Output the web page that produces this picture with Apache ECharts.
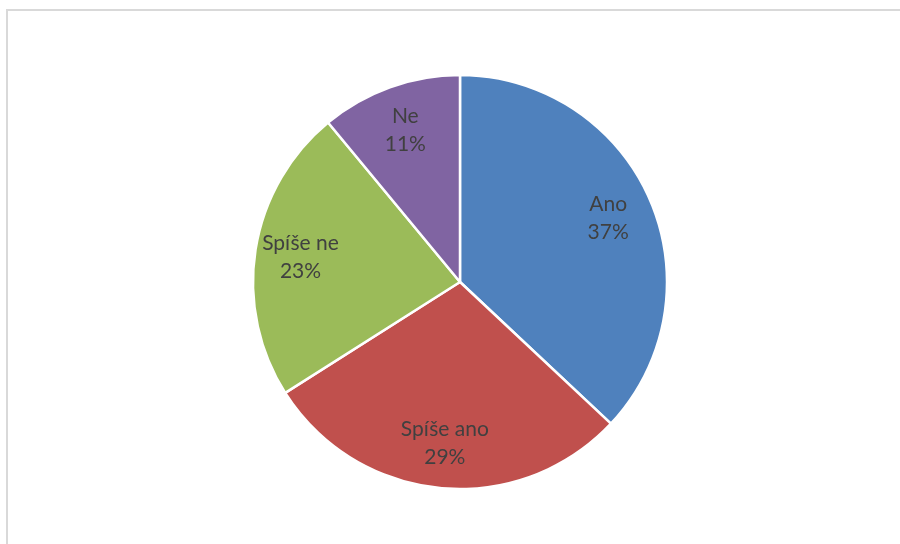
<!DOCTYPE html>
<html>
<head>
<meta charset="utf-8">
<script src="https://cdn.jsdelivr.net/npm/echarts@6/dist/echarts.min.js"></script>
<style>
  html, body { margin: 0; padding: 0; background: #ffffff; }
  #chart { width: 900px; height: 544px; }
</style>
</head>
<body>
<div id="chart"></div>
<script>
// Answer categories and their shares (percent)
const categories = ['Ano', 'Spíše ano', 'Spíše ne', 'Ne'];
const shares = [37, 29, 23, 11];
const colors = ['#4f81bd', '#c0504d', '#9bbb59', '#8064a2'];

const pieData = categories.map((name, i) => ({ name: name, value: shares[i] }));

const chart = echarts.init(document.getElementById('chart'), null, { renderer: 'canvas' });

const center = ['460', '282'];
const labelStyle = {
  show: true,
  position: 'inside',
  formatter: p => p.name + '\n' + p.value + '%',
  color: '#404040',
  fontFamily: 'Lato, Open Sans, sans-serif',
  fontSize: 21,
  lineHeight: 28
};

chart.setOption({
  backgroundColor: '#ffffff',
  animation: false,
  color: colors,
  graphic: [{
    type: 'rect',
    shape: { x: 7, y: 10, width: 1000, height: 1000 },
    style: { fill: 'none', stroke: '#d9d9d9', lineWidth: 2 },
    silent: true
  }],
  series: [
    {
      // the pie slices
      type: 'pie',
      center: center,
      radius: [0, 207],
      startAngle: 90,
      clockwise: true,
      data: pieData,
      label: { show: false },
      labelLine: { show: false },
      itemStyle: { borderColor: '#ffffff', borderWidth: 2.5 },
      emphasis: { disabled: true },
      silent: true
    },
    {
      // transparent ring that carries the slice labels toward the outer edge
      type: 'pie',
      center: center,
      radius: [110, 207],
      startAngle: 90,
      clockwise: true,
      data: pieData,
      itemStyle: { color: 'rgba(0,0,0,0)' },
      label: labelStyle,
      labelLine: { show: false },
      emphasis: { disabled: true },
      silent: true
    }
  ]
});
</script>
</body>
</html>
